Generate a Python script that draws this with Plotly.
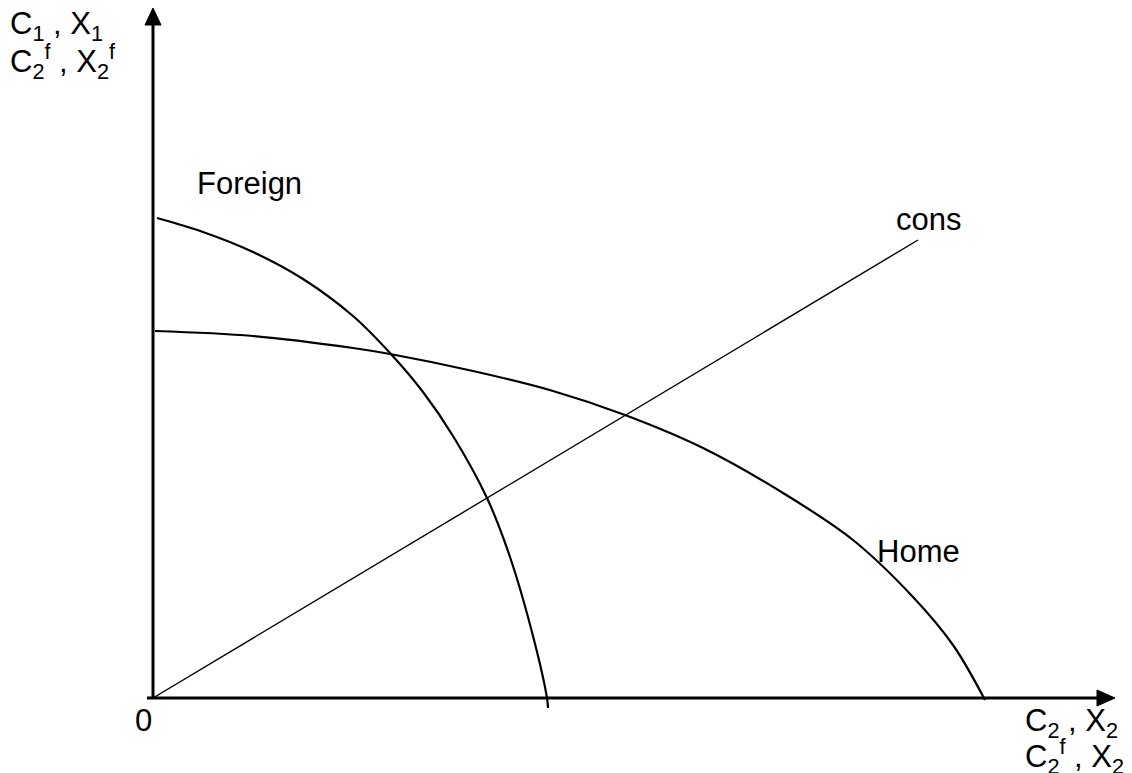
import plotly.graph_objects as go

# Production possibility / consumption diagram (abstract units, origin at 0)
foreign_x = [4, 50, 100, 150, 200, 237, 270, 300, 334, 357, 380, 394, 395]
foreign_y = [480, 466, 446, 419, 382, 345, 306, 262, 200, 141, 62, 0, -10]

home_x = [2, 100, 200, 237, 320, 400, 472, 550, 630, 700, 760, 800, 832]
home_y = [367, 362, 350, 344, 327, 307, 283, 250, 205, 158, 101, 53, -2]

cons_x = [0, 765]
cons_y = [0, 458]

FONT = "Arial, Liberation Sans, sans-serif"
W, H = 1132, 773       # page size
OFF = 8                # browser body margin
X0, Y0 = 153, 698      # page pixel position of origin

fig = go.Figure()
for xs, ys, w in [(foreign_x, foreign_y, 2.2), (home_x, home_y, 2.2), (cons_x, cons_y, 1.4)]:
    fig.add_trace(go.Scatter(x=xs, y=ys, mode="lines",
                             line=dict(color="black", width=w, shape="spline", smoothing=1.0),
                             hoverinfo="skip", showlegend=False))

def px(x):
    return x - X0

def py(y):
    return Y0 - y

shapes = [
    dict(type="line", x0=px(147), y0=0, x1=px(1098), y1=0, line=dict(color="black", width=3)),
    dict(type="line", x0=0, y0=0, x1=0, y1=py(24), line=dict(color="black", width=3)),
    dict(type="path", path=f"M {px(153)} {py(8)} L {px(145)} {py(25)} L {px(161)} {py(25)} Z",
         fillcolor="black", line=dict(color="black", width=1)),
    dict(type="path", path=f"M {px(1115)} {py(698)} L {px(1097)} {py(690)} L {px(1097)} {py(706)} Z",
         fillcolor="black", line=dict(color="black", width=1)),
]

def ann(text, x, y, xa="center", ya="middle", size=31):
    return dict(text=text,
                x=(x - OFF) / (W - OFF), y=1 - (y - OFF) / (H - OFF),
                xref="paper", yref="paper", showarrow=False,
                xanchor=xa, yanchor=ya, align="left",
                font=dict(family=FONT, size=size, color="black"))

annotations = [
    ann("Foreign", 249, 184),
    ann("cons", 928, 219),
    ann("Home", 918, 551),
    ann("0", 143, 720),
    ann("C<sub>1</sub>&nbsp;, X<sub>1</sub>", 8, 4, xa="left", ya="top"),
    ann("C<sub>2</sub><sup>f</sup> , X<sub>2</sub><sup>f</sup>", 8, 37, xa="left", ya="top"),
    ann("C<sub>2</sub> , X<sub>2</sub>", 1023, 701, xa="left", ya="top"),
    ann("C<sub>2</sub><sup>f</sup> , X<sub>2</sub><sup>f</sup>", 1023, 732, xa="left", ya="top"),
]

fig.update_layout(
    width=W - OFF, height=H - OFF,
    margin=dict(l=0, r=0, t=0, b=0),
    paper_bgcolor="white", plot_bgcolor="white",
    xaxis=dict(range=[px(OFF), px(W)], visible=False, fixedrange=True),
    yaxis=dict(range=[py(H), py(OFF)], visible=False, fixedrange=True),
    shapes=shapes, annotations=annotations, showlegend=False,
)

fig.write_html("out.html")
